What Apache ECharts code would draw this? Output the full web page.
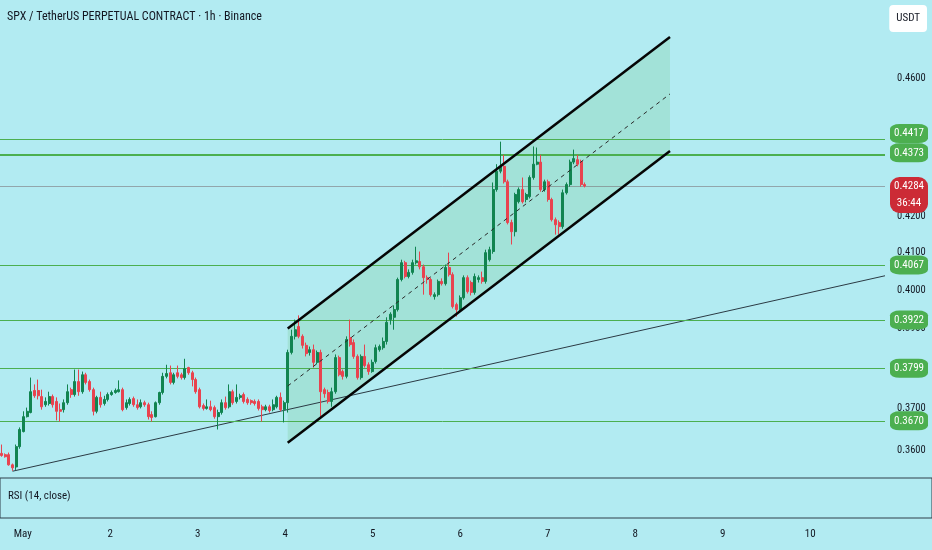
<!DOCTYPE html>
<html><head><meta charset="utf-8">
<script src="https://cdn.jsdelivr.net/npm/echarts@6/dist/echarts.min.js"></script>
<style>html,body{margin:0;padding:0;background:#b2ebf2;}#c{width:932px;height:550px;}</style>
</head><body><div id="c"></div>
<script>
const FONT = "'Roboto Condensed','Liberation Sans Narrow','DejaVu Sans Condensed',sans-serif";

// hourly candles, first one at Apr 30 19:00 (hours counted from May 1 00:00)
const firstHour = -5;
// [open, close, low, high]
const candles = [
[0.3592,0.3587,0.3584,0.3613],[0.3589,0.3584,0.3582,0.3592],[0.3589,0.3565,0.3563,0.3594],[0.3565,0.3558,0.3551,0.3568],
[0.3560,0.3608,0.3553,0.3613],[0.3608,0.3649,0.3603,0.3654],[0.3644,0.3680,0.3642,0.3693],[0.3680,0.3693,0.3678,0.3702],
[0.3690,0.3741,0.3688,0.3776],[0.3744,0.3731,0.3726,0.3759],[0.3744,0.3731,0.3722,0.3771],[0.3729,0.3704,0.3697,0.3746],
[0.3709,0.3717,0.3704,0.3727],[0.3712,0.3729,0.3707,0.3741],[0.3729,0.3709,0.3702,0.3734],[0.3717,0.3693,0.3671,0.3727],
[0.3697,0.3693,0.3668,0.3712],[0.3697,0.3714,0.3690,0.3722],[0.3714,0.3741,0.3709,0.3759],[0.3746,0.3734,0.3726,0.3751],
[0.3734,0.3766,0.3729,0.3796],[0.3766,0.3741,0.3731,0.3796],[0.3741,0.3783,0.3736,0.3791],[0.3783,0.3764,0.3759,0.3788],
[0.3766,0.3746,0.3741,0.3771],[0.3746,0.3693,0.3683,0.3751],[0.3693,0.3727,0.3688,0.3731],[0.3727,0.3709,0.3702,0.3741],
[0.3712,0.3722,0.3707,0.3731],[0.3722,0.3734,0.3717,0.3739],[0.3734,0.3739,0.3731,0.3744],[0.3739,0.3744,0.3736,0.3749],
[0.3741,0.3746,0.3739,0.3769],[0.3746,0.3697,0.3693,0.3751],[0.3702,0.3714,0.3697,0.3722],[0.3712,0.3722,0.3707,0.3727],
[0.3724,0.3709,0.3704,0.3729],[0.3709,0.3702,0.3697,0.3722],[0.3704,0.3714,0.3700,0.3722],[0.3714,0.3709,0.3704,0.3719],
[0.3709,0.3680,0.3673,0.3714],[0.3685,0.3678,0.3668,0.3693],[0.3680,0.3714,0.3678,0.3717],[0.3714,0.3739,0.3709,0.3741],
[0.3739,0.3779,0.3734,0.3788],[0.3779,0.3786,0.3774,0.3808],[0.3788,0.3764,0.3759,0.3806],[0.3764,0.3783,0.3759,0.3788],
[0.3788,0.3779,0.3774,0.3806],[0.3783,0.3776,0.3771,0.3788],[0.3776,0.3798,0.3771,0.3823],[0.3801,0.3788,0.3783,0.3803],
[0.3788,0.3771,0.3754,0.3793],[0.3771,0.3741,0.3736,0.3776],[0.3746,0.3704,0.3700,0.3751],[0.3707,0.3700,0.3695,0.3712],
[0.3700,0.3704,0.3697,0.3722],[0.3704,0.3697,0.3693,0.3719],[0.3702,0.3680,0.3675,0.3707],[0.3680,0.3690,0.3649,0.3697],
[0.3690,0.3714,0.3685,0.3722],[0.3714,0.3702,0.3697,0.3729],[0.3704,0.3741,0.3700,0.3759],[0.3741,0.3714,0.3709,0.3746],
[0.3717,0.3727,0.3712,0.3759],[0.3727,0.3731,0.3722,0.3736],[0.3734,0.3717,0.3712,0.3739],[0.3722,0.3714,0.3709,0.3727],
[0.3719,0.3714,0.3709,0.3722],[0.3717,0.3712,0.3707,0.3722],[0.3717,0.3700,0.3695,0.3722],[0.3704,0.3697,0.3668,0.3709],
[0.3697,0.3704,0.3693,0.3709],[0.3704,0.3695,0.3690,0.3709],[0.3697,0.3709,0.3693,0.3722],[0.3704,0.3727,0.3700,0.3731],
[0.3727,0.3697,0.3693,0.3739],[0.3697,0.3714,0.3666,0.3719],[0.3714,0.3839,0.3690,0.3846],[0.3839,0.3880,0.3834,0.3897],
[0.3880,0.3897,0.3872,0.3923],[0.3905,0.3880,0.3875,0.3934],[0.3880,0.3857,0.3849,0.3885],[0.3857,0.3836,0.3829,0.3864],
[0.3839,0.3846,0.3831,0.3854],[0.3846,0.3814,0.3801,0.3859],[0.3814,0.3839,0.3809,0.3844],[0.3839,0.3741,0.3680,0.3846],
[0.3746,0.3736,0.3726,0.3751],[0.3739,0.3717,0.3712,0.3746],[0.3717,0.3741,0.3704,0.3751],[0.3741,0.3826,0.3736,0.3834],
[0.3826,0.3783,0.3779,0.3831],[0.3791,0.3779,0.3771,0.3796],[0.3779,0.3872,0.3774,0.3880],[0.3877,0.3859,0.3854,0.3923],
[0.3864,0.3829,0.3823,0.3872],[0.3829,0.3776,0.3771,0.3834],[0.3776,0.3829,0.3771,0.3834],[0.3829,0.3806,0.3801,0.3859],
[0.3808,0.3791,0.3783,0.3814],[0.3791,0.3814,0.3788,0.3821],[0.3816,0.3851,0.3811,0.3859],[0.3846,0.3854,0.3841,0.3859],
[0.3851,0.3867,0.3846,0.3877],[0.3867,0.3916,0.3859,0.3929],[0.3923,0.3937,0.3910,0.3942],[0.3929,0.3949,0.3897,0.3960],
[0.3949,0.4028,0.3944,0.4033],[0.4028,0.4073,0.4023,0.4081],[0.4073,0.4036,0.4031,0.4078],[0.4036,0.4047,0.4031,0.4055],
[0.4047,0.4073,0.4041,0.4081],[0.4073,0.4078,0.4068,0.4116],[0.4076,0.4062,0.4055,0.4103],[0.4062,0.4033,0.3988,0.4068],
[0.4033,0.4028,0.4017,0.4039],[0.4028,0.3988,0.3983,0.4033],[0.3983,0.3988,0.3975,0.3994],[0.3988,0.4023,0.3983,0.4028],
[0.4023,0.4017,0.4012,0.4031],[0.4017,0.4060,0.4012,0.4068],[0.4060,0.4041,0.4036,0.4100],[0.4041,0.3957,0.3952,0.4047],
[0.3962,0.3949,0.3931,0.3967],[0.3949,0.3980,0.3944,0.3986],[0.3980,0.4033,0.3975,0.4039],[0.4033,0.3996,0.3991,0.4039],
[0.4020,0.3994,0.3986,0.4025],[0.3994,0.4036,0.3988,0.4044],[0.4028,0.4033,0.4020,0.4039],[0.4033,0.4023,0.4017,0.4049],
[0.4023,0.4100,0.4017,0.4108],[0.4081,0.4108,0.4076,0.4116],[0.4103,0.4274,0.4097,0.4294],[0.4274,0.4326,0.4268,0.4346],
[0.4326,0.4340,0.4320,0.4411],[0.4340,0.4296,0.4291,0.4373],[0.4296,0.4182,0.4177,0.4302],[0.4182,0.4157,0.4122,0.4190],
[0.4157,0.4260,0.4144,0.4265],[0.4240,0.4274,0.4235,0.4280],[0.4274,0.4240,0.4235,0.4308],[0.4246,0.4260,0.4238,0.4265],
[0.4254,0.4308,0.4249,0.4314],[0.4308,0.4346,0.4302,0.4397],[0.4346,0.4352,0.4343,0.4394],[0.4352,0.4274,0.4268,0.4373],
[0.4274,0.4296,0.4268,0.4302],[0.4296,0.4246,0.4240,0.4302],[0.4246,0.4190,0.4185,0.4251],[0.4190,0.4176,0.4149,0.4196],
[0.4182,0.4171,0.4149,0.4188],[0.4171,0.4265,0.4165,0.4274],[0.4265,0.4288,0.4260,0.4294],[0.4288,0.4352,0.4282,0.4359],
[0.4352,0.4362,0.4346,0.4388],[0.4359,0.4346,0.4340,0.4373],[0.4354,0.4288,0.4282,0.4359],[0.4288,0.4284,0.4280,0.4294]
];

const dayTicks = [0, 24, 48, 72, 96, 120, 144, 168, 192, 216];
const dayLabels = ['May', '2', '3', '4', '5', '6', '7', '8', '9', '10'];
const priceTicks = [0.36, 0.37, 0.38, 0.39, 0.40, 0.41, 0.42, 0.46];

const supportLevels = [0.4417, 0.4373, 0.4067, 0.3922, 0.3799, 0.3670];
const lastPrice = 0.4284;
const countdown = '36:44';

const channelHours = [73, 177.2];
const channelUpper = [0.3900, 0.4726];
const channelMid = [0.3755, 0.4552];
const channelLower = [0.3617, 0.4384];

const trendHours = [-2, 235.8];
const trendPrices = [0.3550, 0.4038];

// ---- layout ----
const X_MIN = -5.42, X_MAX = 235.8, PLOT_W = 885;
const hourPx = PLOT_W / (X_MAX - X_MIN);
const Y_MIN = 0.35342, Y_MAX = 0.48426;
const UP = '#118450', DOWN = '#e8434f', LVL = '#4caf50';

const candleData = candles.map((c, i) => [firstHour + i, c[0], c[1], c[2], c[3]]);

const levelLines = supportLevels.map(v => ({
  yAxis: v,
  lineStyle: { color: LVL, width: v === 0.4373 ? 2 : 1, type: 'solid' }
}));
levelLines.push({ yAxis: lastPrice, lineStyle: { color: 'rgba(120,110,115,0.55)', width: 1, type: 'solid' } });

const labelOffsets = { 0.4417: -6, 0.4373: -2 };
const levelLabels = supportLevels.map(v => ({
  coord: [X_MAX, v],
  symbol: 'roundRect',
  symbolSize: [38, 19],
  symbolOffset: [24, labelOffsets[v] || 0],
  itemStyle: { color: LVL },
  label: { show: true, position: 'inside', formatter: v.toFixed(4), color: '#fff', fontSize: 11, fontFamily: FONT }
}));
levelLabels.push({
  coord: [X_MAX, lastPrice],
  symbol: 'roundRect',
  symbolSize: [38, 36],
  symbolOffset: [24, 9],
  itemStyle: { color: '#cc2b36' },
  label: { show: true, position: 'inside', formatter: lastPrice.toFixed(4) + '\n' + countdown, lineHeight: 17, color: '#fff', fontSize: 11, fontFamily: FONT }
});

const lineSeries = (name, hours, prices, style, z) => ({
  name, type: 'line', xAxisIndex: 0, yAxisIndex: 0,
  data: hours.map((h, i) => [h, prices[i]]),
  symbol: 'none', silent: true, z, lineStyle: style, animation: false
});

const chart = echarts.init(document.getElementById('c'));
chart.setOption({
  backgroundColor: '#b2ebf2',
  animation: false,
  textStyle: { fontFamily: FONT },
  title: [
    { text: 'SPX / TetherUS PERPETUAL CONTRACT · 1h · Binance', left: 7, top: 11, padding: 0,
      textStyle: { fontFamily: FONT, fontSize: 12, fontWeight: 'normal', color: '#131722' } },
    { text: 'USDT', right: 5, top: 5, padding: [8, 7], backgroundColor: '#ffffff', borderRadius: 4,
      textStyle: { fontFamily: FONT, fontSize: 11, fontWeight: 'normal', color: '#131722' } },
    { text: 'RSI (14, close)', left: 8, top: 491, padding: 0,
      textStyle: { fontFamily: FONT, fontSize: 11, fontWeight: 'normal', color: '#131722' } }
  ],
  grid: [
    { left: 0, top: 0, width: PLOT_W, height: 478, show: false },
    { left: -3, right: -3, top: 478, height: 40, show: true, borderColor: '#2e3e4a', borderWidth: 1, backgroundColor: 'transparent' }
  ],
  xAxis: [
    { gridIndex: 0, type: 'value', min: X_MIN, max: X_MAX, show: false, splitLine: { show: false } },
    { gridIndex: 1, type: 'value', min: X_MIN - 3 / hourPx, max: X_MIN - 3 / hourPx + 938 / hourPx,
      axisLine: { show: false }, axisTick: { show: false }, splitLine: { show: false },
      axisLabel: { customValues: dayTicks, formatter: v => dayLabels[dayTicks.indexOf(v)] || '',
        color: '#131722', fontSize: 11, fontFamily: FONT, margin: 11 } }
  ],
  yAxis: [
    { gridIndex: 0, type: 'log', logBase: 10, min: Y_MIN, max: Y_MAX, position: 'right',
      axisLine: { show: false }, axisTick: { show: false }, splitLine: { show: false },
      axisLabel: { customValues: priceTicks, formatter: v => Number(v).toFixed(4),
        color: '#131722', fontSize: 10.5, fontFamily: FONT, margin: 12 } },
    { gridIndex: 1, type: 'value', show: false, splitLine: { show: false } }
  ],
  series: [
    {
      type: 'custom', xAxisIndex: 0, yAxisIndex: 0, silent: true, z: 1,
      data: [[channelHours[0], channelMid[0]]],
      renderItem: (params, api) => ({
        type: 'polygon',
        shape: { points: [
          api.coord([channelHours[0], channelUpper[0]]), api.coord([channelHours[1], channelUpper[1]]),
          api.coord([channelHours[1], channelLower[1]]), api.coord([channelHours[0], channelLower[0]])
        ] },
        style: { fill: 'rgba(90,190,100,0.18)' }
      })
    },
    {
      name: 'levels', type: 'line', xAxisIndex: 0, yAxisIndex: 0, data: [], z: 3,
      markLine: { silent: true, precision: 4, symbol: ['none', 'none'], label: { show: false }, data: levelLines, animation: false },
      markPoint: { silent: true, data: levelLabels, animation: false }
    },
    lineSeries('trend', trendHours, trendPrices, { color: '#2b3a44', width: 1 }, 4),
    {
      name: 'SPXUSDT', type: 'candlestick', xAxisIndex: 0, yAxisIndex: 0, z: 5,
      data: candleData, barWidth: 2.5,
      itemStyle: { color: UP, color0: DOWN, borderColor: UP, borderColor0: DOWN, borderWidth: 1 }
    },
    lineSeries('channel mid', channelHours, channelMid, { color: '#2a2a2a', width: 1, type: [4, 4] }, 6),
    lineSeries('channel top', channelHours, channelUpper, { color: '#050505', width: 2.5 }, 7),
    lineSeries('channel bottom', channelHours, channelLower, { color: '#050505', width: 2.5 }, 7)
  ]
});
</script>
</body></html>
